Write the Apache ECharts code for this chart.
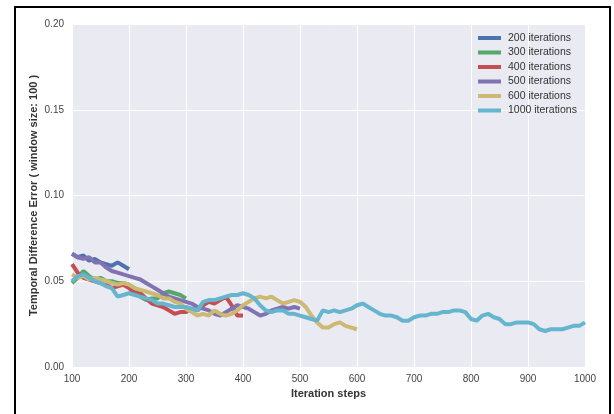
<!DOCTYPE html>
<html>
<head>
<meta charset="utf-8">
<script src="https://cdn.jsdelivr.net/npm/echarts@6/dist/echarts.min.js"></script>
<style>
    html, body { margin: 0; padding: 0; background: #fff; }
    #chart { width: 614px; height: 414px; }
</style>
</head>
<body>
<div id="chart"></div>
<script>
// 每条曲线从第100步开始，每10步一个点
var startStep = 100;
var stepSize = 10;
var xTicks = [100, 200, 300, 400, 500, 600, 700, 800, 900, 1000];
var yTicks = [0, 0.05, 0.10, 0.15, 0.20];

var names = ["200 iterations", "300 iterations", "400 iterations", "500 iterations", "600 iterations", "1000 iterations"];
var colors = ["#4C72B0", "#55A868", "#C44E52", "#8172B2", "#CCB974", "#64B5CD"];

var it200 = [0.066, 0.064, 0.065, 0.062, 0.063, 0.061, 0.060, 0.059, 0.061, 0.059, 0.057];
var it300 = [0.049, 0.052, 0.056, 0.053, 0.051, 0.052, 0.050, 0.050, 0.049, 0.049, 0.048,
    0.046, 0.041, 0.039, 0.040, 0.040, 0.043, 0.044, 0.043, 0.042, 0.040];
var it400 = [0.060, 0.055, 0.052, 0.051, 0.050, 0.049, 0.048, 0.046, 0.047, 0.048, 0.046,
    0.043, 0.043, 0.040, 0.037, 0.036, 0.035, 0.033, 0.031, 0.032, 0.032,
    0.034, 0.033, 0.036, 0.038, 0.037, 0.039, 0.041, 0.036, 0.030, 0.030];
var it500 = [0.066, 0.064, 0.063, 0.064, 0.061, 0.061, 0.058, 0.056, 0.055, 0.054, 0.053,
    0.052, 0.051, 0.049, 0.047, 0.045, 0.043, 0.041, 0.040, 0.039, 0.038,
    0.037, 0.035, 0.034, 0.033, 0.031, 0.030, 0.032, 0.034, 0.036, 0.035,
    0.034, 0.032, 0.030, 0.031, 0.033, 0.034, 0.035, 0.034, 0.035, 0.034];
var it600 = [0.054, 0.052, 0.053, 0.051, 0.052, 0.051, 0.050, 0.049, 0.048, 0.049, 0.048,
    0.046, 0.045, 0.044, 0.043, 0.042, 0.040, 0.040, 0.038, 0.037, 0.034,
    0.032, 0.030, 0.031, 0.030, 0.033, 0.031, 0.030, 0.031, 0.033, 0.036,
    0.038, 0.040, 0.041, 0.040, 0.041, 0.039, 0.037, 0.038, 0.039, 0.038,
    0.035, 0.030, 0.026, 0.023, 0.023, 0.025, 0.026, 0.024, 0.023, 0.022];
var it1000 = [0.050, 0.053, 0.054, 0.052, 0.050, 0.049, 0.047, 0.046, 0.041, 0.042, 0.043,
    0.042, 0.041, 0.040, 0.039, 0.037, 0.037, 0.036, 0.035, 0.035, 0.035,
    0.034, 0.033, 0.038, 0.039, 0.039, 0.040, 0.041, 0.042, 0.042, 0.043,
    0.042, 0.040, 0.036, 0.033, 0.032, 0.033, 0.033, 0.031, 0.031, 0.030,
    0.029, 0.028, 0.027, 0.033, 0.032, 0.033, 0.032, 0.033, 0.034, 0.036,
    0.037, 0.035, 0.033, 0.031, 0.030, 0.030, 0.029, 0.027, 0.027, 0.029,
    0.030, 0.030, 0.031, 0.031, 0.032, 0.032, 0.033, 0.033, 0.032, 0.028,
    0.027, 0.030, 0.031, 0.029, 0.028, 0.025, 0.025, 0.026, 0.026, 0.026,
    0.025, 0.022, 0.021, 0.022, 0.022, 0.022, 0.023, 0.024, 0.024, 0.026];

var seriesValues = [it200, it300, it400, it500, it600, it1000];

function toPoints(values) {
    var pts = [];
    for (var i = 0; i < values.length; i++) {
        pts.push([startStep + i * stepSize, values[i]]);
    }
    return pts;
}

var chart = echarts.init(document.getElementById("chart"), null, { renderer: "canvas" });
var fontFamily = "'Liberation Sans', Arial, sans-serif";

var series = [];
for (var i = 0; i < names.length; i++) {
    series.push({
        name: names[i],
        type: "line",
        data: toPoints(seriesValues[i]),
        showSymbol: false,
        symbol: "none",
        lineStyle: { color: colors[i], width: 4 },
        itemStyle: { color: colors[i] },
        z: 2 + i
    });
}

chart.setOption({
    animation: false,
    backgroundColor: "#fff",
    textStyle: { fontFamily: fontFamily },
    graphic: [{
        type: "rect",
        shape: { x: 15, y: 7, width: 595, height: 430 },
        style: { fill: "none", stroke: "#000", lineWidth: 2 },
        silent: true,
        z: 100
    }],
    grid: {
        left: 72, right: 29, top: 24, bottom: 47,
        show: true, backgroundColor: "#EAEAF2", borderWidth: 0
    },
    legend: {
        data: names,
        orient: "vertical",
        left: 473, top: 27,
        itemWidth: 23, itemHeight: 4, itemGap: 2.5,
        icon: "rect",
        textStyle: { fontSize: 10.5, color: "#333", lineHeight: 12, fontFamily: fontFamily, padding: [0, 0, 0, 2] }
    },
    xAxis: {
        type: "value",
        min: xTicks[0], max: xTicks[xTicks.length - 1], interval: 100,
        name: "Iteration steps",
        nameLocation: "middle", nameGap: 21,
        nameMoveOverlap: false,
        nameTextStyle: { fontSize: 11, fontWeight: "bold", color: "#333" },
        axisLine: { show: false }, axisTick: { show: false },
        axisLabel: {
            fontSize: 10, color: "#444", margin: 7,
            formatter: function (v) { return String(v); }
        },
        splitLine: { show: true, lineStyle: { color: "#fff", width: 1 } }
    },
    yAxis: {
        type: "value",
        min: yTicks[0], max: yTicks[yTicks.length - 1], interval: 0.05,
        name: "Temporal Difference Error ( window size: 100 )",
        nameLocation: "middle", nameGap: 33,
        nameMoveOverlap: false,
        nameTextStyle: { fontSize: 11, fontWeight: "bold", color: "#333" },
        axisLine: { show: false }, axisTick: { show: false },
        axisLabel: {
            fontSize: 10, color: "#444", margin: 8,
            formatter: function (v) { return v.toFixed(2); }
        },
        splitLine: { show: true, lineStyle: { color: "#fff", width: 1 } }
    },
    series: series
});
</script>
</body>
</html>
